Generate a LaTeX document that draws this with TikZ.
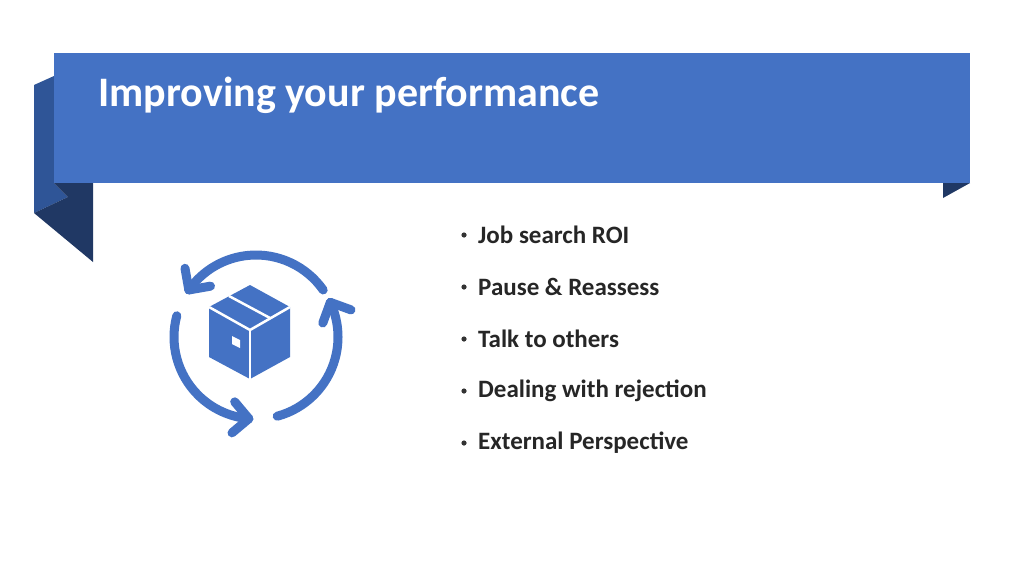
\documentclass[tikz,border=0pt]{standalone}
\usepackage{fontspec}
\setmainfont{Carlito}
\usetikzlibrary{positioning, calc}
\definecolor{bannerblue}{HTML}{4472C4}
\definecolor{folddark}{HTML}{2F5597}
\definecolor{folddarker}{HTML}{203864}
\begin{document}
\begin{tikzpicture}[
        x=1pt, y=-1pt,
        bullet/.style={anchor=west, inner sep=0pt, font=\fontsize{25}{28}\selectfont\bfseries, text=black!85},
        cyclearc/.style={line width=9pt, bannerblue, line cap=round, line join=round}
    ]
    \useasboundingbox[fill=white] (0,0) rectangle (1024,576);

    % Banner folds
    \fill[folddark] (34,85) -- (54,76) -- (54,183) -- (68,197) -- (34,213) -- cycle;
    \fill[folddarker] (54,183) -- (93,183) -- (93,262) -- (34,213) -- (68,197) -- cycle;
    \fill[folddarker] (943,183) -- (970,183) -- (943,198) -- cycle;
    \fill[bannerblue] (54,53) rectangle (970,183);
    \node[anchor=west, text=white, font=\fontsize{42}{46}\selectfont\bfseries] (title) at (95,95) {Improving your performance};

    % Cycle icon
    \coordinate (hub) at (256,337);
    \foreach \s/\e in {35/145, 165/265, 285/385} {
        \draw[cyclearc] (hub) ++(-\s:82) arc[start angle=-\s, end angle=-\e, radius=82];
        \coordinate (tip) at ($(hub)+(-\e:82)$);
        \draw[cyclearc] ($(tip)+(-\e-225:22)$) -- (tip) -- ($(tip)+(-\e-315:22)$);
    }

    % Box
    \fill[bannerblue] (250,285) -- (290,307) -- (290,357) -- (250,379) -- (209,357) -- (209,307) -- cycle;
    \draw[white, line width=2.5pt] (209,307) -- (250,330) -- (290,307);
    \draw[white, line width=2.5pt] (250,330) -- (250,379);
    \draw[white, line width=2.5pt] (229,296) -- (270,318);
    \fill[white] (232,336) -- (240,340) -- (240,348) -- (232,344) -- cycle;

    % Bullets
    \foreach \txt [count=\i] in {Job search ROI, Pause \& Reassess, Talk to others, Dealing with rejection, External Perspective} {
        \node[bullet] (item\i) at (478,183+52*\i) {\txt};
        \fill[black!80] ([xshift=-14pt]item\i.west) circle (2.6pt);
    }
\end{tikzpicture}
\end{document}
